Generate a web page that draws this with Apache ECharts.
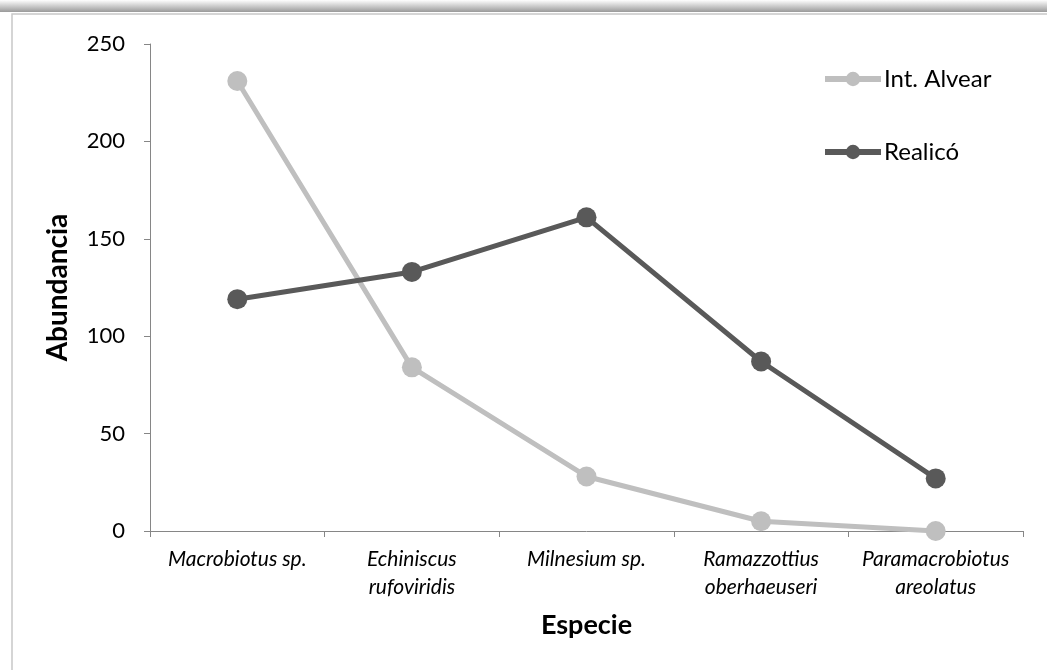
<!DOCTYPE html>
<html>
<head>
<meta charset="utf-8">
<script src="https://cdn.jsdelivr.net/npm/echarts@6/dist/echarts.min.js"></script>
<style>
  html, body { margin: 0; padding: 0; background: #fff; }
  #chart { width: 1047px; height: 670px; }
</style>
</head>
<body>
<div id="chart"></div>
<script>
// especies (eje x) y abundancias por localidad
var especies = ['Macrobiotus sp.', 'Echiniscus\nrufoviridis', 'Milnesium sp.', 'Ramazzottius\noberhaeuseri', 'Paramacrobiotus\nareolatus'];
var intAlvear = [231, 84, 28, 5, 0];
var realico = [119, 133, 161, 87, 27];
var yTicks = [0, 50, 100, 150, 200, 250];

var fuente = 'Lato, "Open Sans", sans-serif';

var myChart = echarts.init(document.getElementById('chart'));
var option = {
    animation: false,
    backgroundColor: '#fff',
    textStyle: { fontFamily: fuente },
    graphic: [
        // sombra arriba del marco
        {
            type: 'rect',
            shape: { x: 0, y: 0, width: 1047, height: 12 },
            style: {
                fill: new echarts.graphic.LinearGradient(0, 0, 0, 1, [
                    { offset: 0, color: '#ffffff' },
                    { offset: 1, color: '#9a9a9a' }
                ])
            },
            silent: true
        },
        // marco del grafico
        {
            type: 'rect',
            shape: { x: 12, y: 14, width: 1100, height: 700 },
            style: { fill: 'none', stroke: '#c8c8c8', lineWidth: 1.5 },
            silent: true
        }
    ],
    grid: {
        left: 150,
        right: 24,
        top: 44,
        bottom: 139
    },
    legend: {
        orient: 'vertical',
        left: 817,
        top: 62,
        itemWidth: 56,
        itemHeight: 18,
        itemGap: 49,
        lineStyle: { width: 6 },
        textStyle: { fontFamily: fuente, fontSize: 24, color: '#000', padding: [0, 0, 0, -2] },
        data: ['Int. Alvear', 'Realicó']
    },
    xAxis: {
        type: 'category',
        data: especies,
        name: 'Especie',
        nameLocation: 'middle',
        nameGap: 81,
        nameTextStyle: { fontFamily: fuente, fontSize: 27, fontWeight: 'bold', color: '#000' },
        axisLine: { lineStyle: { color: '#868686', width: 1 } },
        axisTick: { show: true, length: 6, lineStyle: { color: '#868686' } },
        axisLabel: {
            fontFamily: fuente,
            fontStyle: 'italic',
            fontSize: 21,
            color: '#000',
            lineHeight: 28,
            margin: 14,
            interval: 0
        }
    },
    yAxis: {
        type: 'value',
        min: yTicks[0],
        max: yTicks[yTicks.length - 1],
        interval: 50,
        name: 'Abundancia',
        nameLocation: 'middle',
        nameGap: 78,
        nameTextStyle: { fontFamily: fuente, fontSize: 28, fontWeight: 'bold', color: '#000' },
        axisLine: { show: true, lineStyle: { color: '#868686', width: 1 } },
        axisTick: { show: true, length: 6, lineStyle: { color: '#868686' } },
        splitLine: { show: false },
        axisLabel: { fontFamily: fuente, fontSize: 22, color: '#000', margin: 25 }
    },
    series: [
        {
            name: 'Int. Alvear',
            type: 'line',
            data: intAlvear,
            symbol: 'circle',
            symbolSize: 20,
            color: '#bfbfbf',
            lineStyle: { width: 5, color: '#bfbfbf' },
            itemStyle: { color: '#bfbfbf' },
            z: 2
        },
        {
            name: 'Realicó',
            type: 'line',
            data: realico,
            symbol: 'circle',
            symbolSize: 20,
            color: '#595959',
            lineStyle: { width: 5, color: '#595959' },
            itemStyle: { color: '#595959' },
            z: 3
        }
    ]
};
myChart.setOption(option);
window.addEventListener('resize', function () {
    myChart.resize();
});
</script>
</body>
</html>
